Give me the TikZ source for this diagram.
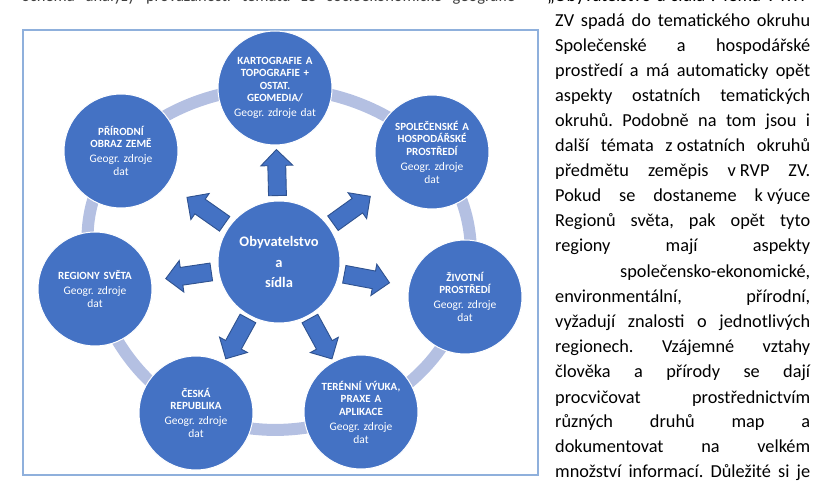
\documentclass[tikz,border=0pt]{standalone}
\usepackage{fontspec}
\setmainfont{Carlito}
\frenchspacing
\usetikzlibrary{shapes.arrows,calc,backgrounds}
\definecolor{tblue}{RGB}{68,114,196}
\definecolor{tdark}{RGB}{47,82,143}
\definecolor{tring}{RGB}{180,192,226}
\definecolor{tframe}{RGB}{143,176,220}
\tikzset{topic/.style={circle, fill=tblue, draw=white, line width=1pt, minimum size=114pt, inner sep=0pt, text=white, align=center, text width=90pt, font=\fontsize{11.5}{13}\selectfont},
 hub/.style={topic, minimum size=122pt, text width=90pt, font=\bfseries\fontsize{14.5}{20.5}\selectfont},
 blockarrow/.style={single arrow, draw=tdark, fill=tblue, line width=0.9pt, minimum height=46pt, inner xsep=0pt, inner ysep=8.5pt, single arrow head extend=7pt},
 ring/.style={tring, line width=12pt},
 body/.style={anchor=base west, inner sep=0pt, font=\fontsize{18.3}{25}\selectfont}}
\newcommand{\ttl}[1]{{\bfseries\fontsize{11}{12.5}\selectfont #1\par}\vspace{2pt}}

\begin{document}
\begin{tikzpicture}[x=1pt,y=-1pt]
  \useasboundingbox (0,0) rectangle (815,481);
  \clip (0,0) rectangle (815,481);
  \draw[tframe, line width=1.5pt] (23,30) rectangle (538,475);

  \node[hub] (c) at (279,262) {Obyvatelstvo\\a\\sídla};
  \node[topic] (k1) at (275,88) {\ttl{KARTOGRAFIE A\\TOPOGRAFIE +\\OSTAT.\\GEOMEDIA/}Geogr. zdroje dat};
  \node[topic] (k2) at (432,152) {\ttl{SPOLEČENSKÉ A\\HOSPODÁŘSKÉ\\PROSTŘEDÍ}Geogr. zdroje\\dat};
  \node[topic] (k3) at (465,297) {\ttl{ŽIVOTNÍ\\PROSTŘEDÍ}Geogr. zdroje\\dat};
  \node[topic] (k4) at (361,412) {\ttl{TERÉNNÍ VÝUKA,\\PRAXE A\\APLIKACE}Geogr. zdroje\\dat};
  \node[topic] (k5) at (196,413) {\ttl{ČESKÁ\\REPUBLIKA}Geogr. zdroje\\dat};
  \node[topic] (k6) at (95,289) {\ttl{REGIONY SVĚTA}Geogr. zdroje\\dat};
  \node[topic] (k7) at (121,151) {\ttl{PŘÍRODNÍ\\OBRAZ ZEMĚ}Geogr. zdroje\\dat};

  \begin{scope}[on background layer]
    \draw[ring] plot[smooth cycle, tension=0.7] coordinates {(k1.center) (k2.center) (k3.center) (k4.center) (k5.center) (k6.center) (k7.center)};
  \end{scope}

  \path ($(c)!66pt!(k1)$) -- (k1) node[blockarrow, pos=0, anchor=tail, sloped, allow upside down] (a1) {};
  \path ($(c)!66pt!(k2)$) -- (k2) node[blockarrow, pos=0, anchor=tail, sloped, allow upside down] (a2) {};
  \path ($(c)!66pt!(k3)$) -- (k3) node[blockarrow, pos=0, anchor=tail, sloped, allow upside down] (a3) {};
  \path ($(c)!64pt!(k4)$) -- (k4) node[blockarrow, pos=0, anchor=tail, sloped, allow upside down] (a4) {};
  \path ($(c)!64pt!(k5)$) -- (k5) node[blockarrow, pos=0, anchor=tail, sloped, allow upside down] (a5) {};
  \path ($(c)!68pt!(k6)$) -- (k6) node[blockarrow, pos=0, anchor=tail, sloped, allow upside down] (a6) {};
  \path ($(c)!66pt!(k7)$) -- (k7) node[blockarrow, pos=0, anchor=tail, sloped, allow upside down] (a7) {};

  \node[body, text=black!75, font=\fontsize{16.5}{20}\selectfont] (cap) at (22,2) {\makebox[493pt][s]{Schéma analýzy provázanosti tématu ze socioekonomické geografie}};
  \node[body] (t0) at (547,2) {\makebox[263pt][s]{„Obyvatelstvo a sídla“. Téma v RVP}};
  \node[body] (t1) at (555,27) {\makebox[255pt][s]{ZV spadá do tematického okruhu}};
  \node[body] (t2) at (555,52) {\makebox[255pt][s]{Společenské a hospodářské}};
  \node[body] (t3) at (555,77) {\makebox[255pt][s]{prostředí a má automaticky opět}};
  \node[body] (t4) at (555,102) {\makebox[255pt][s]{aspekty ostatních tematických}};
  \node[body] (t5) at (555,127) {\makebox[255pt][s]{okruhů. Podobně na tom jsou i}};
  \node[body] (t6) at (555,152) {\makebox[255pt][s]{další témata \mbox{z ostatních} okruhů}};
  \node[body] (t7) at (555,177) {\makebox[255pt][s]{předmětu zeměpis \mbox{v RVP} ZV.}};
  \node[body] (t8) at (555,202) {\makebox[255pt][s]{Pokud se dostaneme \mbox{k výuce}}};
  \node[body] (t9) at (555,227) {\makebox[255pt][s]{Regionů světa, pak opět tyto}};
  \node[body] (t10) at (555,252) {\makebox[255pt][s]{regiony mají aspekty}};
  \node[body] (t11) at (555,278) {\makebox[255pt][r]{společensko-ekonomické,}};
  \node[body] (t12) at (555,303) {\makebox[255pt][s]{environmentální, přírodní,}};
  \node[body] (t13) at (555,328) {\makebox[255pt][s]{vyžadují znalosti o jednotlivých}};
  \node[body] (t14) at (555,353) {\makebox[255pt][s]{regionech. Vzájemné vztahy}};
  \node[body] (t15) at (555,378) {\makebox[255pt][s]{člověka a přírody se dají}};
  \node[body] (t16) at (555,403) {\makebox[255pt][s]{procvičovat prostřednictvím}};
  \node[body] (t17) at (555,428) {\makebox[255pt][s]{různých druhů map a}};
  \node[body] (t18) at (555,453) {\makebox[255pt][s]{dokumentovat na velkém}};
  \node[body] (t19) at (555,478) {\makebox[255pt][s]{množství informací. Důležité si je}};
\end{tikzpicture}
\end{document}
